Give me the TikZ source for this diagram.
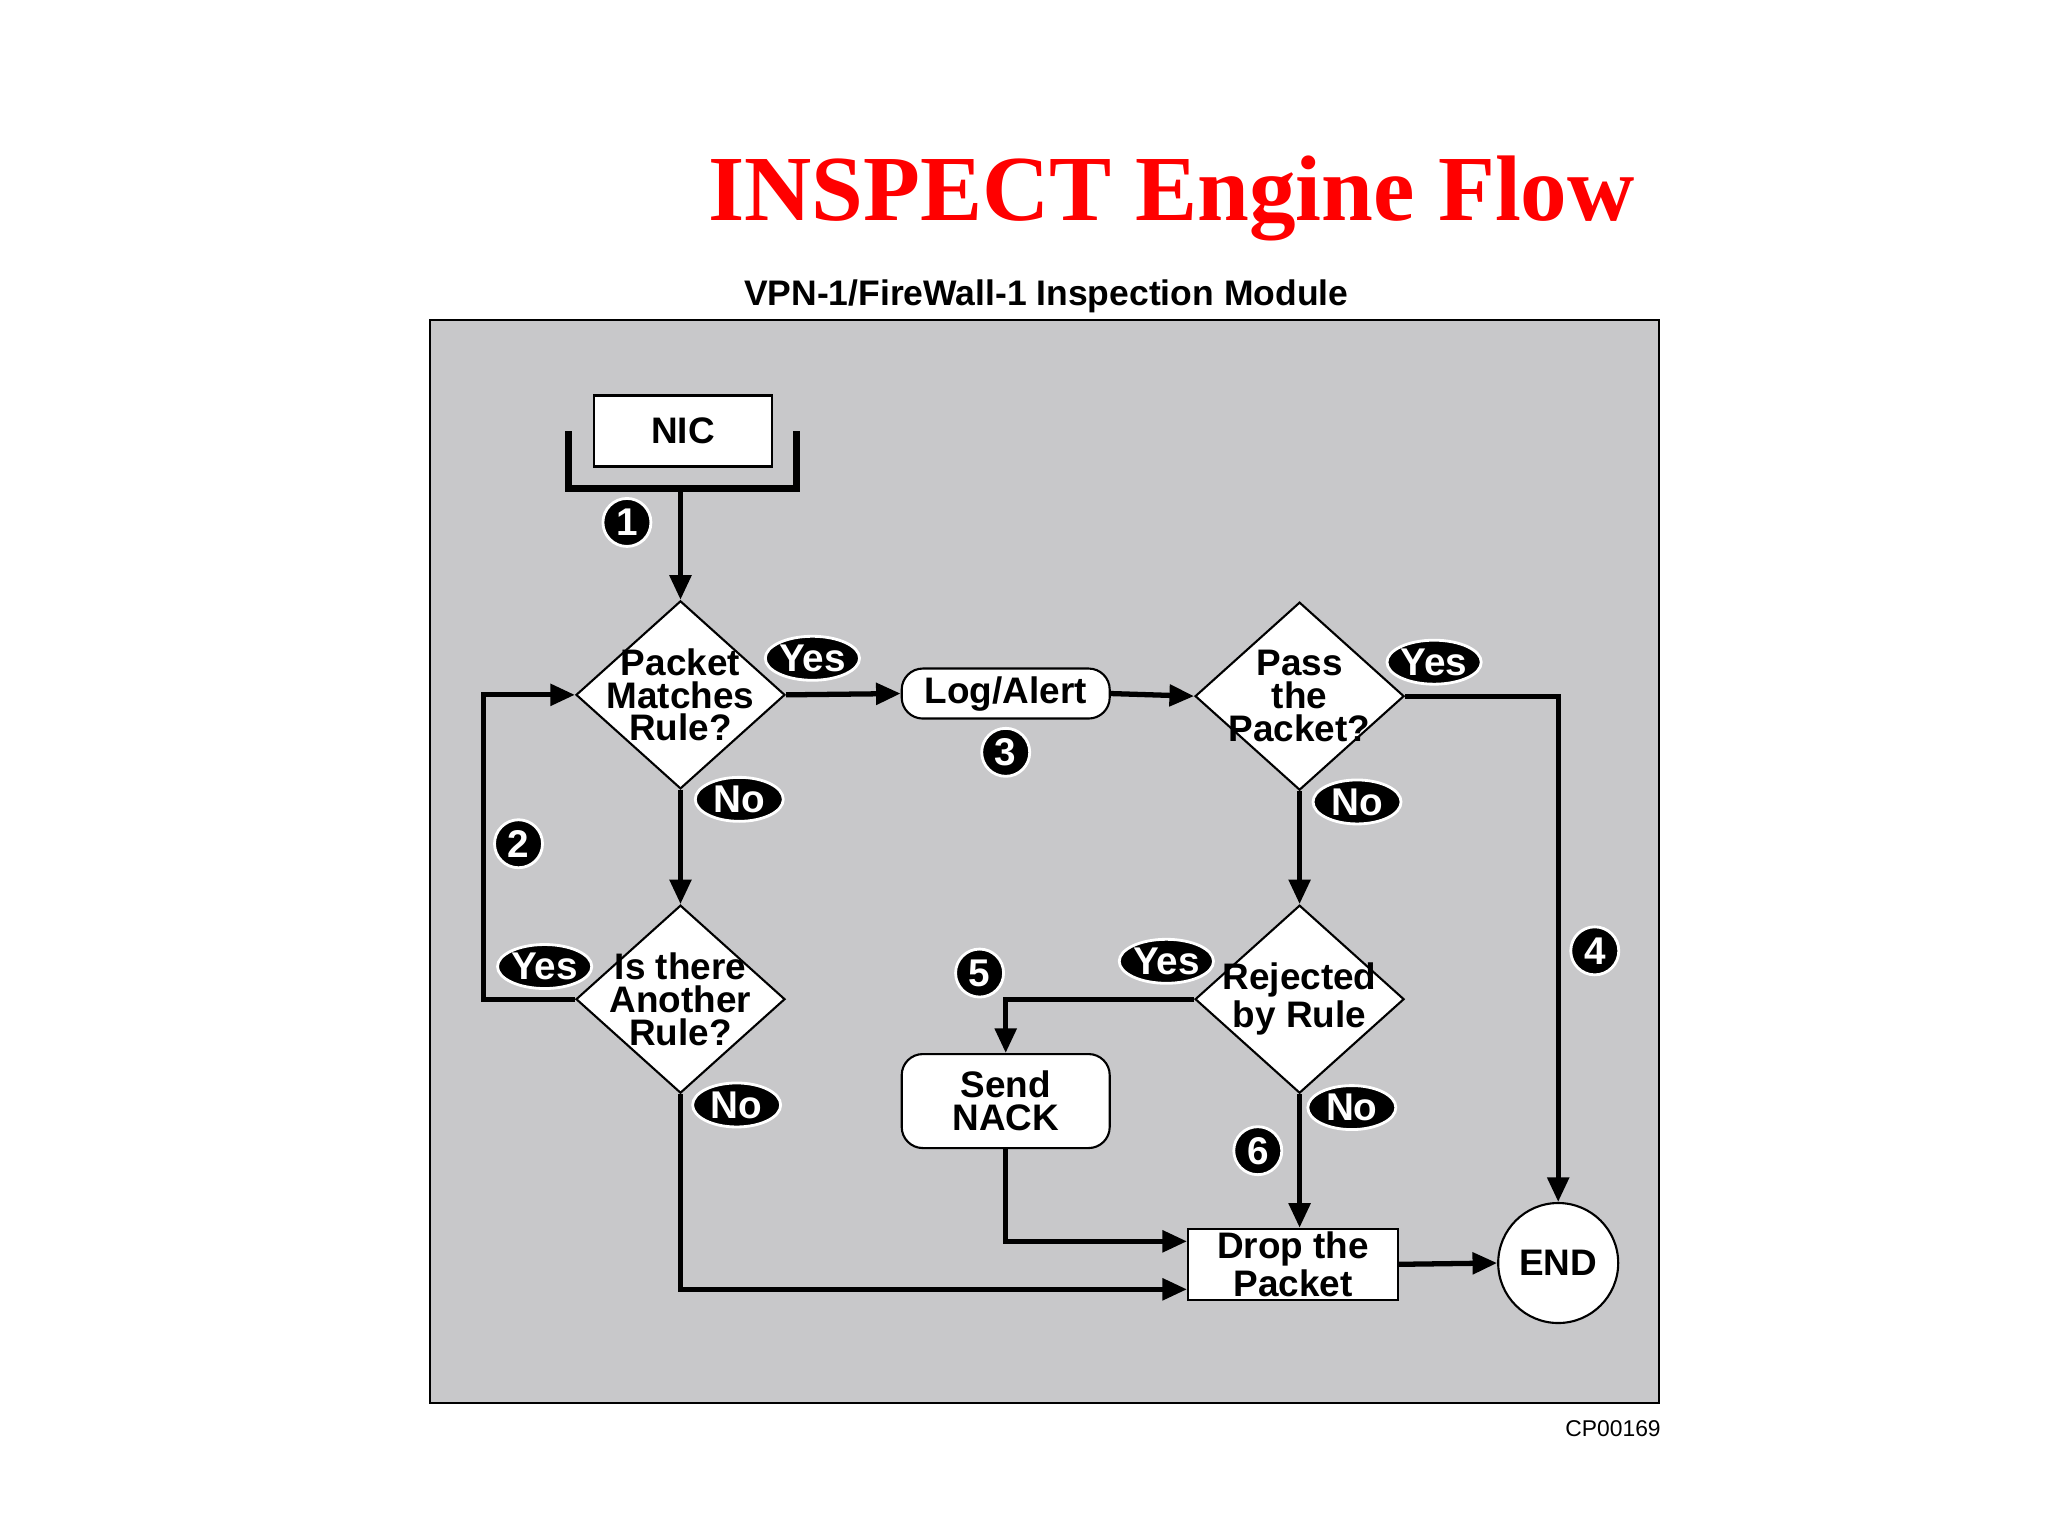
\documentclass[tikz,border=0pt]{standalone}
\usepackage{fontspec}
\setmainfont{Liberation Sans}
\newfontfamily\titlefont{Liberation Serif}
\usetikzlibrary{shapes.geometric,arrows.meta}
\definecolor{panel}{RGB}{200,200,202}
\begin{document}
\begin{tikzpicture}[x=0.01306cm, y=-0.01306cm,
  line width=1.5pt, >={Triangle[length=7pt,width=6pt]},
  txt/.style={font=\fontsize{10.5}{9.3}\selectfont\bfseries, align=center},
  dia/.style={diamond, draw, fill=white, line width=0.6pt, minimum width=2.09cm, minimum height=1.88cm, inner sep=0pt},
  box/.style={rectangle, draw, fill=white, line width=0.6pt, inner sep=0pt, txt},
  rbox/.style={box, rounded corners=6pt},
  badge/.style={ellipse, fill=black, draw=white, line width=0.8pt, text=white, minimum width=0.88cm, minimum height=0.44cm, inner sep=0pt, font=\fontsize{11}{11}\selectfont\bfseries},
  num/.style={circle, fill=black, draw=white, line width=0.8pt, text=white, minimum size=0.48cm, inner sep=0pt, font=\fontsize{11}{11}\selectfont\bfseries},
  flow/.style={->, line width=1.5pt},
]
\useasboundingbox (0,0) rectangle (1568,1176);
\node (title) at (897,152) {\titlefont\bfseries\color{red}\fontsize{26.5}{26.5}\selectfont INSPECT Engine Flow};
\node (sub) at (801,227) {\fontsize{10.1}{10.1}\selectfont\bfseries VPN-1/FireWall-1 Inspection Module};
\node (cp) at (1235,1094) {\fontsize{6.5}{6.5}\selectfont CP00169};
\draw[fill=panel, line width=0.6pt] (329,245) rectangle (1270,1074);

% nodes
\node[box, minimum width=1.78cm, minimum height=0.71cm] (nic) at (523,330) {NIC};
\node[dia, label={[txt]center:Packet\\Matches\\Rule?}] (match) at (521,532) {};
\node[rbox, minimum width=2.08cm, minimum height=0.50cm] (log) at (770,531) {Log/Alert};
\node[dia, label={[txt]center:Pass\\the\\Packet?}] (pass) at (995,533) {};
\node[dia, label={[txt]center:Is there\\Another\\Rule?}] (another) at (521,765) {};
\node[dia, label={[txt]center:Rejected\\by Rule}] (reject) at (995,765) {};
\node[rbox, minimum width=2.08cm, minimum height=0.94cm] (nack) at (770,843) {Send\\NACK};
\node[box, minimum width=2.10cm, minimum height=0.71cm] (drop) at (990,968) {Drop the\\Packet};
\node[circle, draw, fill=white, line width=0.6pt, minimum size=1.20cm, txt, inner sep=0pt] (end) at (1193,967) {END};

% NIC bracket
\coordinate (bl) at (435,330);
\coordinate (br) at (610,330);
\coordinate (bk) at (521,374);
\draw[line width=2pt] (bl) -- (435,374) -- (610,374) -- (br);
\draw[flow] (bk) -- (match.north);

% connectors
\draw[flow] (match.east) -- (log.west);
\draw[flow] (log.east) -- (pass.west);
\draw[flow] (pass.east) -- (1193,533) -- (end.north);
\draw[flow] (pass.south) -- (reject.north);
\draw[flow] (reject.west) -| (nack.north);
\draw[flow] (reject.south) -- (drop.north -| reject.south);
\draw[flow] (nack.south) |- ([yshift=0.23cm]drop.west);
\draw[flow] (drop.east) -- (end.west);
\draw[flow] (match.south) -- (another.north);
\draw[flow] (another.west) -- (370,765) |- (match.west);
\draw[flow] (another.south) |- ([yshift=-0.25cm]drop.west);

% badges
\node[badge] (y1) at (622,504) {Yes};
\node[badge] (n1) at (566,612) {No};
\node[badge] (y2) at (1098,507) {Yes};
\node[badge] (n2) at (1039,614) {No};
\node[badge] (y3) at (893,736) {Yes};
\node[badge] (n3) at (1035,848) {No};
\node[badge] (y4) at (417,740) {Yes};
\node[badge] (n4) at (564,846) {No};
\node[num] (c1) at (480,400) {1};
\node[num] (c2) at (397,646) {2};
\node[num] (c3) at (770,576) {3};
\node[num] (c4) at (1221,728) {4};
\node[num] (c5) at (750,745) {5};
\node[num] (c6) at (963,881) {6};
\end{tikzpicture}
\end{document}
